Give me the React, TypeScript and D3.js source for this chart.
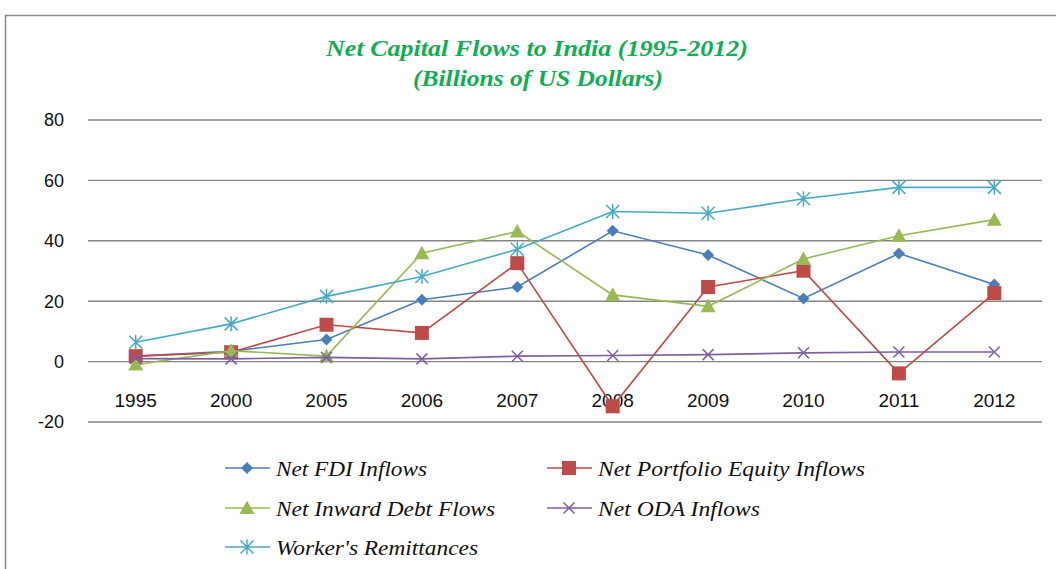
import React from "react";
import * as d3 from "d3";

const years = ["1995", "2000", "2005", "2006", "2007", "2008", "2009", "2010", "2011", "2012"];
const fdi = [1.8, 3.4, 7.3, 20.5, 24.7, 43.3, 35.3, 20.9, 35.8, 25.5];
const portfolio = [1.8, 3.1, 12.2, 9.5, 32.6, -14.8, 24.7, 30.1, -3.9, 22.7];
const debt = [-1.0, 3.6, 1.8, 35.9, 43.1, 22.1, 18.3, 34.0, 41.7, 47.0];
const oda = [1.0, 0.9, 1.4, 0.9, 1.8, 2.0, 2.3, 2.9, 3.2, 3.2];
const remittances = [6.4, 12.5, 21.6, 28.2, 37.2, 49.7, 49.1, 53.9, 57.7, 57.7];
const yTicks = [-20, 0, 20, 40, 60, 80];

type Marker = "diamond" | "square" | "triangle" | "x" | "star";

const series: { name: string; values: number[]; color: string; marker: Marker }[] = [
  { name: "Net FDI Inflows", values: fdi, color: "#4a7ebb", marker: "diamond" },
  { name: "Net Portfolio Equity Inflows", values: portfolio, color: "#be4b48", marker: "square" },
  { name: "Net Inward Debt Flows", values: debt, color: "#98b954", marker: "triangle" },
  { name: "Net ODA  Inflows", values: oda, color: "#7d60a0", marker: "x" },
  { name: "Worker's Remittances", values: remittances, color: "#46aac5", marker: "star" },
];

// draws one marker symbol centred on (x, y)
function MarkerShape({ type, x, y, color }: { type: Marker; x: number; y: number; color: string }) {
  if (type === "diamond") {
    const s = 6;
    return <path d={`M${x},${y - s}L${x + s},${y}L${x},${y + s}L${x - s},${y}Z`} fill={color} />;
  }
  if (type === "square") {
    const s = 7;
    return <rect x={x - s} y={y - s} width={s * 2} height={s * 2} fill={color} />;
  }
  if (type === "triangle") {
    const s = 7.5;
    return <path d={`M${x},${y - s}L${x + s},${y + s * 0.8}L${x - s},${y + s * 0.8}Z`} fill={color} />;
  }
  if (type === "x") {
    const s = 5.5;
    return (
      <path d={`M${x - s},${y - s}L${x + s},${y + s}M${x - s},${y + s}L${x + s},${y - s}`} stroke={color} strokeWidth={1.5} />
    );
  }
  const s = 6.5;
  return (
    <path
      d={`M${x - s},${y - s}L${x + s},${y + s}M${x - s},${y + s}L${x + s},${y - s}M${x},${y - s - 1}L${x},${y + s + 1}`}
      stroke={color}
      strokeWidth={1.5}
    />
  );
}

export default function App() {
  const width = 1056;
  const height = 569;
  const margin = { left: 88, right: 1042, top: 120, bottom: 422 };

  const x = d3.scaleBand<string>().domain(years).range([margin.left, margin.right]);
  const y = d3.scaleLinear().domain([-20, 80]).range([margin.bottom, margin.top]);
  const cx = (yr: string) => (x(yr) ?? 0) + x.bandwidth() / 2;

  const line = d3
    .line<number>()
    .x((_, i) => cx(years[i]))
    .y((d) => y(d));

  // legend placement: line start, row centre, text width
  const legendPos = [
    { lx: 225, ly: 468, tw: 151 },
    { lx: 547, ly: 468, tw: 267 },
    { lx: 225, ly: 508, tw: 219 },
    { lx: 547, ly: 508, tw: 162 },
    { lx: 225, ly: 547, tw: 202 },
  ];

  return (
    <svg
      width={width}
      height={height}
      style={{ position: "absolute", left: 0, top: 0, background: "#fff" }}
      fontFamily="'Liberation Sans', Arial, sans-serif"
    >
      <rect x={5.5} y={15.5} width={width + 20} height={height + 20} fill="#fff" stroke="#8a8a8a" strokeWidth={1.5} />

      <g fontFamily="'Liberation Serif', 'Times New Roman', serif" fontStyle="italic" fontWeight="bold" fill="#12ad55" fontSize={24} textAnchor="middle">
        <text x={537} y={56} textLength={422} lengthAdjust="spacingAndGlyphs">
          Net Capital Flows to India (1995-2012)
        </text>
        <text x={538} y={86} textLength={250} lengthAdjust="spacingAndGlyphs">
          (Billions of US Dollars)
        </text>
      </g>

      {yTicks.map((t) => (
        <g key={t}>
          <line x1={margin.left} x2={margin.right} y1={y(t)} y2={y(t)} stroke="#858585" strokeWidth={1.4} />
          <text x={64} y={y(t)} dy="0.35em" textAnchor="end" fontSize={18} fill="#111">
            {t}
          </text>
        </g>
      ))}

      {years.map((yr) => (
        <text key={yr} x={cx(yr)} y={y(0) + 45} textAnchor="middle" fontSize={19} fill="#111">
          {yr}
        </text>
      ))}

      {series.map((s) => (
        <g key={s.name}>
          <path d={line(s.values) ?? ""} fill="none" stroke={s.color} strokeWidth={1.6} />
          {s.values.map((v, i) => (
            <MarkerShape key={i} type={s.marker} x={cx(years[i])} y={y(v)} color={s.color} />
          ))}
        </g>
      ))}

      {series.map((s, i) => {
        const p = legendPos[i];
        return (
          <g key={s.name}>
            <line x1={p.lx} x2={p.lx + 45} y1={p.ly} y2={p.ly} stroke={s.color} strokeWidth={1.6} />
            <MarkerShape type={s.marker} x={p.lx + 22} y={p.ly} color={s.color} />
            <text
              x={p.lx + 51}
              y={p.ly}
              dy="0.35em"
              fontFamily="'Liberation Serif', 'Times New Roman', serif"
              fontStyle="italic"
              fontSize={22}
              fill="#111"
              textLength={p.tw}
              lengthAdjust="spacingAndGlyphs"
            >
              {s.name}
            </text>
          </g>
        );
      })}
    </svg>
  );
}
